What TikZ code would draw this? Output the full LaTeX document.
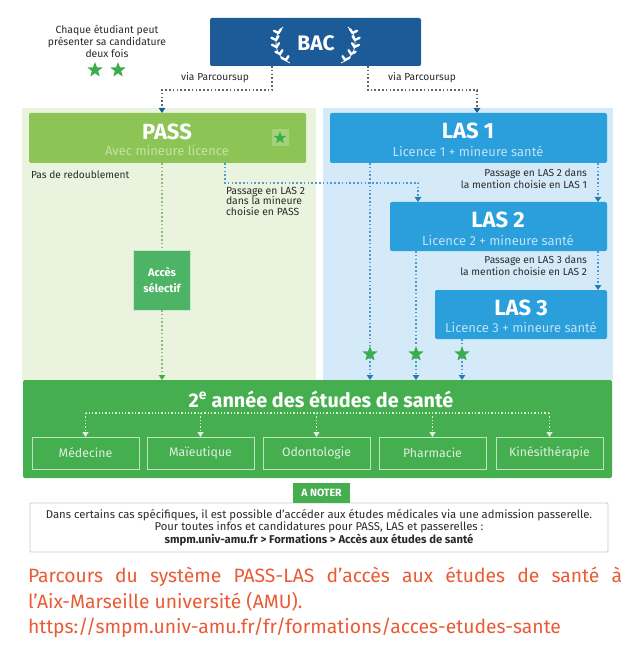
\documentclass[tikz,border=0pt]{standalone}
\usepackage{fontspec}
\setmainfont{Fira Sans}
\usetikzlibrary{arrows.meta,shapes.geometric,calc}
\definecolor{bacblue}{HTML}{1D5B98}
\definecolor{passgreen}{HTML}{8DC456}
\definecolor{passsub}{HTML}{C4E3A4}
\definecolor{passbg}{HTML}{EAF3DE}
\definecolor{lasblue}{HTML}{2A9FDB}
\definecolor{lassub}{HTML}{BFE2F6}
\definecolor{lasbg}{HTML}{D4EAF8}
\definecolor{accgreen}{HTML}{4DB365}
\definecolor{yrgreen}{HTML}{45AF4F}
\definecolor{yrsub}{HTML}{DDF1DD}
\definecolor{stargreen}{HTML}{3BAE4A}
\definecolor{captred}{HTML}{EA5B35}
\definecolor{dotblue}{HTML}{4A9AD6}
\definecolor{dotgray}{HTML}{5F676D}
\definecolor{dotgreen}{HTML}{8DB97A}
\definecolor{txtgray}{HTML}{2A2A2A}
\definecolor{notegray}{HTML}{C5CBCF}
\begin{document}
\begin{tikzpicture}[x=1pt,y=-1pt]
\tikzset{
  every node/.style={inner sep=0pt, outer sep=0pt},
  box/.style={rectangle, rounded corners=2pt, anchor=north west},
  ttl/.style={text=white, font=\fontsize{22}{24}\selectfont\bfseries},
  subt/.style={font=\fontsize{13}{15}\selectfont},
  lbl/.style={text=txtgray, font=\fontsize{10.2}{11.6}\selectfont},
  dotl/.style={line width=1.6pt, dash pattern=on 1.6pt off 2.2pt},
  bacdot/.style={dotl, draw=dotgray, -{Triangle[length=5pt,width=6.5pt,color=bacblue]}},
  bluedot/.style={dotl, draw=dotblue},
  bluetip/.style={bluedot, -{Triangle[length=5pt,width=6.5pt,color=lasblue!80!black]}},
  greendot/.style={dotl, draw=dotgreen},
  greentip/.style={greendot, -{Triangle[length=5pt,width=6.5pt,color=stargreen]}},
  whitedot/.style={line width=1.3pt, dash pattern=on 1.3pt off 2pt, draw=yrsub},
  whitetip/.style={whitedot, -{Triangle[length=5pt,width=6pt,color=yrsub]}},
  star5/.style={star, star points=5, star point ratio=2.4, fill=stargreen, minimum size=16pt},
  subbox/.style={rectangle, anchor=north west, draw=yrsub!80!yrgreen, line width=0.8pt,
    minimum width=107pt, minimum height=32pt, text=yrsub, font=\fontsize{12.3}{14}\selectfont},
  leaf/.style={white, line width=2.4pt, line cap=round},
}
\useasboundingbox[fill=white] (0,0) rectangle (640,660);

% background panels
\fill[passbg] (22,108) rectangle (316,380);
\fill[lasbg] (323,108) rectangle (613,380);

% BAC
\node[box, fill=bacblue, minimum width=211pt, minimum height=48pt] (bac) at (210,18) {};
\node[ttl, font=\fontsize{21}{23}\selectfont\bfseries] (bacT) at (316,43) {BAC};
\draw[white, line width=0.8pt] (290,63) .. controls (273,56) and (272,36) .. (283,27);
\draw[white, line width=0.8pt] (341,63) .. controls (358,56) and (359,36) .. (348,27);
\foreach \px/\py in {286/60, 280/54, 276.5/47, 276/40, 278.5/33} {
  \draw[leaf] (\px,\py) -- ++(-4.5,-2.2);
  \draw[leaf] (\px,\py) -- ++(2.4,-3.8);
  \draw[leaf] ({631-\px},\py) -- ++(4.5,-2.2);
  \draw[leaf] ({631-\px},\py) -- ++(-2.4,-3.8);
}

\node[lbl, align=center, font=\fontsize{10.4}{12}\selectfont] (chaque) at (107,41)
  {Chaque étudiant peut\\présenter sa candidature\\deux fois};
\node[star5] (cs1) at (95,70) {};
\node[star5] (cs2) at (118,70) {};

% PASS / LAS boxes
\node[box, fill=passgreen, minimum width=277pt, minimum height=50pt] (pass) at (29,113) {};
\node[ttl] (passT) at (167,132) {PASS};
\node[subt, text=passsub] (passS) at (167,151) {Avec mineure licence};
\node[fill=passgreen!78!white, minimum size=17pt] (passSq) at (280,138) {};
\node[star5, minimum size=13pt] (passStar) at (280,138) {};

\node[box, fill=lasblue, minimum width=277pt, minimum height=50pt] (las1) at (330,113) {};
\node[ttl] (las1T) at (468,131) {LAS 1};
\node[subt, text=lassub] (las1S) at (468,151) {Licence 1 + mineure santé};

\node[box, fill=lasblue, minimum width=217pt, minimum height=49pt] (las2) at (390,202) {};
\node[ttl] (las2T) at (498,220) {LAS 2};
\node[subt, text=lassub] (las2S) at (498,240) {Licence 2 + mineure santé};

\node[box, fill=lasblue, minimum width=172pt, minimum height=49pt] (las3) at (435,290) {};
\node[ttl] (las3T) at (521,308) {LAS 3};
\node[subt, text=lassub] (las3S) at (521,327) {Licence 3 + mineure santé};

% 2e annee
\node[box, fill=yrgreen, minimum width=589pt, minimum height=98pt] (annee) at (23,380) {};
\node[text=white, font=\fontsize{19.8}{22}\selectfont\bfseries] (anneeT) at (321,399)
  {2\textsuperscript{e} année des études de santé};
\node[subbox] (med) at (32,437) {Médecine};
\node[subbox] (mai) at (147,437) {Maïeutique};
\node[subbox] (odo) at (263,437) {Odontologie};
\node[subbox] (pha) at (379,437) {Pharmacie};
\node[subbox] (kin) at (496,437) {Kinésithérapie};
\coordinate (hl) at (0,413);
\draw[whitedot] (med.north |- hl) -- (kin.north |- hl);
\foreach \b in {med,mai,odo,pha,kin} {
  \draw[whitetip] (\b.north |- hl) -- (\b.north);
}

% BAC connectors
\node[lbl] (via1) at (215,78) {via Parcoursup};
\node[lbl] (via2) at (422,78) {via Parcoursup};
\coordinate (bj1) at (272,90);
\coordinate (pin) at (162,90);
\draw[bacdot] (bac.south -| bj1) -- (bj1) -- (pin) -- (pass.north -| pin);
\coordinate (bj2) at (368,90);
\coordinate (lin) at (477,90);
\draw[bacdot] (bac.south -| bj2) -- (bj2) -- (lin) -- (las1.north -| lin);

% PASS column
\node[lbl, anchor=west] (redoub) at (31,175) {Pas de redoublement};
\node[fill=accgreen, draw=white!70!accgreen, line width=1pt, minimum width=57pt, minimum height=60pt,
  text=white, align=center, font=\fontsize{11}{16}\selectfont\bfseries] (acces) at (162,280)
  {Accès\\sélectif};
\draw[greendot] (pass.south -| acces) -- (acces.north);
\draw[greentip] (acces.south) -- (annee.north -| acces);

% PASS -> LAS 2
\coordinate (pl1) at (225,183);
\coordinate (pl2) at (418,183);
\draw[bluetip] (pass.south -| pl1) -- (pl1) -- (pl2) -- (las2.north -| pl2);
\node[lbl, align=left, anchor=north west, font=\fontsize{10.4}{10.6}\selectfont] (plab) at (226,187)
  {Passage en LAS 2\\dans la mineure\\choisie en PASS};

% LAS -> 2e annee
\node[star5] (st1) at (370,354) {};
\node[star5] (st2) at (416,354) {};
\node[star5] (st3) at (462,354) {};
\draw[bluedot] (las1.south -| st1) -- (st1.north);
\draw[bluedot] (las2.south -| st2) -- (st2.north);
\draw[bluedot] (las3.south -| st3) -- (st3.north);
\draw[bluetip] (st1.south) -- (annee.north -| st1);
\draw[bluetip] (st2.south) -- (annee.north -| st2);
\draw[bluetip] (st3.south) -- (annee.north -| st3);

% LAS progression
\coordinate (rv) at (598,0);
\draw[bluetip] (las1.south -| rv) -- (las2.north -| rv);
\draw[bluetip] (las2.south -| rv) -- (las3.north -| rv);
\node[lbl, align=right, anchor=east] (l12) at (587,179)
  {Passage en LAS 2 dans\\la mention choisie en LAS 1};
\node[lbl, align=right, anchor=east] (l23) at (587,266)
  {Passage en LAS 3 dans\\la mention choisie en LAS 2};

% note
\node[draw=notegray, fill=white, line width=0.8pt, rounded corners=1pt, minimum width=578pt,
  minimum height=49pt, anchor=north west] (note) at (30,503) {};
\node[fill=yrgreen, text=white, font=\fontsize{10.5}{12}\selectfont\bfseries, minimum width=57pt,
  minimum height=20pt, anchor=south west] (noter) at (293,503) {A NOTER};
\node[lbl, align=center, font=\fontsize{11.3}{12.4}\selectfont] (noteT) at (319,527.5)
  {Dans certains cas spécifiques, il est possible d’accéder aux études médicales via une admission passerelle.\\
   Pour toutes infos et candidatures pour PASS, LAS et passerelles :\\
   \textbf{smpm.univ-amu.fr > Formations > Accès aux études de santé}};

% caption
\tikzset{capt/.style={anchor=west, text=captred, font=\fontsize{19.3}{22}\selectfont}}
\node[capt] (cap1) at (28,577) {\makebox[594pt][s]{Parcours du système PASS-LAS d’accès aux études de santé à}};
\node[capt] (cap2) at (28,602) {l’Aix-Marseille université (AMU).};
\node[capt] (cap3) at (28,628) {https://smpm.univ-amu.fr/fr/formations/acces-etudes-sante};
\end{tikzpicture}
\end{document}
